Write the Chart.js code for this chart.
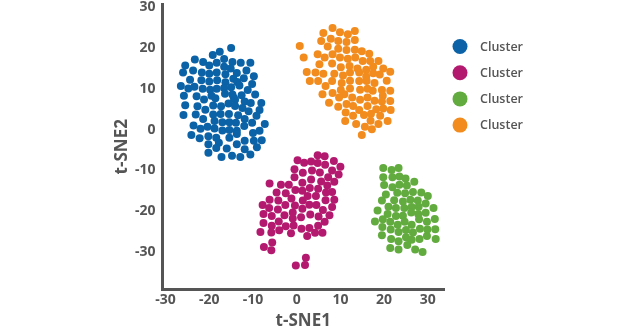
<!DOCTYPE html>
<html>
<head>
<meta charset="utf-8">
<title>t-SNE clusters</title>
<script src="https://cdn.jsdelivr.net/npm/chart.js@4.4.1/dist/chart.umd.min.js"></script>
<style>
    html, body { margin: 0; padding: 0; background: #fff; }
    #wrap { width: 630px; height: 330px; }
</style>
</head>
<body>
<div id="wrap"><canvas id="tsne" width="630" height="330"></canvas></div>
<script>
// точки кластеров, [t-SNE1, t-SNE2]
var clusterBlue = [
    [-15.0,20.0],[-17.6,19.1],[-19.2,18.3],[-16.6,17.3],[-23.3,17.2],[-21.4,16.6],[-18.3,16.4],[-14.7,16.6],
    [-12.8,16.4],[-10.6,16.4],[-25.5,15.7],[-20.0,15.7],[-16.6,15.4],[-15.1,15.0],[-23.7,14.5],[-26.0,14.0],
    [-21.7,14.0],[-20.0,13.7],[-18.3,14.0],[-16.3,13.6],[-11.5,14.5],[-13.7,13.9],[-14.5,12.5],[-12.1,12.6],
    [-9.8,13.1],[-24.4,12.2],[-21.8,12.1],[-20.0,11.8],[-18.2,12.1],[-16.3,11.6],[-13.6,11.7],[-26.5,10.7],
    [-24.8,10.1],[-23.4,10.5],[-21.5,10.0],[-19.8,9.8],[-18.3,10.0],[-16.6,10.2],[-15.0,10.4],[-13.1,10.8],
    [-10.2,11.2],[-11.2,9.7],[-25.8,8.3],[-22.9,8.2],[-19.5,8.3],[-16.4,8.8],[-14.7,8.6],[-14.4,7.8],
    [-12.6,8.4],[-9.5,8.6],[-21.2,7.4],[-18.6,7.7],[-14.1,7.3],[-11.9,6.9],[-10.5,6.5],[-8.1,6.5],
    [-25.5,6.0],[-22.7,5.7],[-19.1,5.9],[-17.3,5.7],[-15.6,6.4],[-14.1,5.8],[-12.4,5.3],[-11.0,4.5],
    [-8.5,4.8],[-20.9,4.9],[-25.9,3.6],[-23.1,3.7],[-19.1,3.7],[-17.4,3.8],[-15.5,3.8],[-13.4,3.5],
    [-9.2,3.4],[-21.4,2.6],[-18.8,2.1],[-17.0,1.8],[-15.4,1.8],[-13.9,1.7],[-11.9,2.6],[-10.2,1.7],
    [-7.3,1.4],[-23.6,1.0],[-20.4,0.7],[-22.0,0.2],[-18.8,0.3],[-17.0,-0.2],[-15.4,-0.1],[-13.7,-0.3],
    [-12.0,0.9],[-10.0,-0.8],[-8.5,-0.3],[-24.1,-1.3],[-22.2,-2.1],[-20.2,-1.6],[-18.4,-2.0],[-15.4,-2.0],
    [-13.7,-1.1],[-11.9,-2.7],[-9.8,-2.7],[-8.0,-2.6],[-20.2,-3.6],[-17.8,-3.2],[-16.0,-4.6],[-13.7,-3.6],
    [-11.9,-4.8],[-9.1,-4.3],[-18.4,-4.5],[-20.2,-5.7],[-17.2,-6.7],[-14.8,-6.4],[-12.9,-6.7],[-10.6,-6.1]
];
var clusterMagenta = [
    [4.8,-6.3],[6.4,-6.5],[0.2,-7.5],[1.7,-8.1],[3.3,-7.8],[4.8,-8.2],[6.5,-8.6],[8.5,-7.7],
    [-0.5,-9.7],[1.4,-10.6],[3.5,-10.0],[5.3,-10.5],[8.1,-10.0],[10.0,-9.1],[-0.5,-11.7],[3.3,-12.2],
    [5.6,-12.7],[7.2,-11.7],[9.6,-11.0],[8.6,-12.8],[-6.2,-13.2],[-3.6,-13.5],[-1.8,-13.5],[1.3,-13.0],
    [-0.3,-14.8],[1.3,-15.0],[3.0,-14.3],[4.9,-14.5],[7.0,-13.7],[6.7,-15.4],[8.1,-15.3],[-4.6,-15.4],
    [-2.5,-15.6],[-1.2,-16.9],[2.5,-16.3],[4.4,-16.3],[-6.2,-17.2],[-4.2,-17.4],[1.4,-17.4],[6.6,-17.3],
    [8.6,-17.2],[-7.8,-18.5],[-6.3,-19.2],[-4.3,-19.6],[-2.6,-18.5],[-0.4,-18.6],[1.3,-19.4],[2.9,-18.4],
    [4.5,-18.5],[6.0,-19.7],[8.1,-19.0],[-7.6,-20.7],[-5.7,-21.2],[-2.8,-21.0],[-0.9,-20.3],[1.0,-21.5],
    [3.1,-20.8],[5.0,-21.3],[7.5,-21.0],[-4.1,-22.5],[-0.9,-21.8],[-7.6,-22.9],[-5.7,-23.6],[-2.5,-23.7],
    [-0.7,-23.5],[1.1,-24.3],[2.9,-24.1],[4.9,-23.6],[6.4,-22.6],[-8.3,-25.1],[-5.8,-25.2],[-4.0,-24.7],
    [-1.3,-25.4],[2.4,-26.1],[4.2,-25.3],[5.9,-25.3],[-5.6,-27.7],[-7.5,-28.8],[-5.8,-29.6],[2.1,-31.4],
    [-0.2,-33.3],[1.9,-33.2]
];
var clusterGreen = [
    [19.8,-9.4],[21.7,-9.9],[23.3,-9.4],[19.8,-11.7],[21.9,-11.7],[23.5,-11.5],[24.9,-12.0],[26.9,-12.8],
    [20.0,-13.6],[21.9,-14.1],[23.5,-13.5],[25.2,-13.7],[20.4,-15.9],[23.0,-15.5],[24.8,-15.6],[26.6,-15.3],
    [28.5,-15.4],[30.0,-16.3],[19.5,-17.4],[22.3,-17.3],[24.3,-17.6],[26.0,-17.2],[27.7,-17.4],[29.5,-18.1],
    [21.0,-18.9],[22.7,-19.2],[24.6,-19.2],[26.3,-19.0],[27.9,-18.9],[31.3,-19.2],[18.5,-19.8],[20.8,-20.7],
    [22.7,-21.2],[24.3,-21.1],[26.2,-20.3],[27.8,-20.7],[29.5,-20.4],[17.9,-22.5],[19.7,-22.0],[21.4,-22.6],
    [23.1,-23.3],[24.7,-22.6],[26.3,-23.3],[28.0,-22.0],[29.8,-22.6],[31.6,-21.9],[19.6,-23.9],[21.5,-24.5],
    [23.3,-25.1],[25.0,-24.6],[26.6,-25.2],[28.2,-24.3],[29.9,-24.5],[31.7,-24.4],[19.5,-25.9],[21.6,-26.8],
    [23.3,-27.4],[25.0,-26.4],[26.3,-27.0],[28.1,-26.8],[29.8,-26.1],[31.8,-26.8],[21.4,-29.0],[23.3,-29.4],
    [25.3,-28.3],[27.1,-29.4],[28.8,-30.0]
];
var clusterOrange = [
    [8.2,24.9],[6.1,23.7],[9.9,23.9],[11.7,23.4],[13.3,24.2],[7.8,22.3],[5.6,21.7],[9.5,21.7],
    [11.4,21.5],[13.3,22.0],[0.7,20.5],[7.1,20.4],[9.5,19.8],[11.4,19.5],[13.3,19.6],[14.9,19.2],
    [16.6,18.6],[4.8,18.5],[6.4,17.7],[8.2,18.5],[9.9,17.7],[11.7,17.4],[13.4,17.7],[15.1,16.8],
    [16.8,16.8],[18.7,16.8],[1.6,17.7],[5.2,16.0],[8.1,16.2],[10.1,15.3],[12.1,15.6],[13.9,15.0],
    [15.9,14.7],[17.5,15.4],[19.8,15.0],[17.5,13.8],[21.4,14.2],[2.3,14.1],[4.3,14.0],[6.1,13.7],
    [8.6,13.7],[10.6,13.3],[12.2,14.0],[14.3,14.0],[15.9,13.0],[19.0,13.5],[20.6,12.0],[3.0,11.9],
    [4.9,11.9],[6.6,10.7],[8.1,11.9],[10.3,11.4],[12.2,12.0],[14.3,11.9],[16.0,11.9],[17.8,11.4],
    [10.1,9.7],[12.2,10.1],[14.5,9.8],[16.2,10.0],[17.4,9.5],[19.5,9.7],[21.4,9.5],[5.9,8.7],
    [8.2,9.0],[10.9,8.7],[9.7,7.9],[12.7,7.9],[14.5,7.3],[16.2,7.9],[17.8,7.1],[19.7,8.3],
    [21.4,7.0],[19.5,6.9],[7.4,6.6],[9.5,5.6],[11.4,6.3],[12.9,5.8],[14.3,4.8],[16.2,5.8],
    [18.2,5.0],[19.8,5.2],[21.5,4.8],[11.2,4.2],[12.9,3.4],[15.4,3.6],[17.0,3.9],[19.1,3.4],
    [11.1,2.1],[13.6,1.4],[16.9,2.2],[18.7,1.4],[20.8,2.1],[15.6,0.7],[17.2,0.1],[14.9,-1.3]
];

var clusterLabels = ['Cluster', 'Cluster', 'Cluster', 'Cluster'];
var clusterColors = ['#0b62a6', '#b31a6f', '#62ab3e', '#f28c1e'];
var xTicks = [-30, -20, -10, 0, 10, 20, 30];
var yTicks = [-30, -20, -10, 0, 10, 20, 30];

var textColor = '#555555';
var fontFamily = '"Open Sans", "Noto Sans", sans-serif';

function toPoints(arr) {
    return arr.map(function(p) { return { x: p[0], y: p[1] }; });
}

// легенда справа: кружок + подпись
var sideLegend = {
    id: 'sideLegend',
    afterDraw: function(chart) {
        var ctx = chart.ctx;
        ctx.save();
        ctx.font = '600 12.5px ' + fontFamily;
        ctx.textBaseline = 'middle';
        ctx.textAlign = 'left';
        chart.data.datasets.forEach(function(ds, i) {
            var cy = 46.5 + i * 26.2;
            ctx.fillStyle = ds.backgroundColor;
            ctx.beginPath();
            ctx.arc(460, cy, 7.5, 0, Math.PI * 2);
            ctx.fill();
            ctx.fillStyle = textColor;
            ctx.fillText(ds.label, 480, cy + 0.5);
        });
        ctx.restore();
    }
};

var clusters = [clusterBlue, clusterMagenta, clusterGreen, clusterOrange];

new Chart(document.getElementById('tsne'), {
    type: 'scatter',
    data: {
        datasets: clusters.map(function(c, i) {
            return {
                label: clusterLabels[i],
                data: toPoints(c),
                backgroundColor: clusterColors[i],
                borderWidth: 0,
                pointRadius: 4,
                pointHoverRadius: 4
            };
        })
    },
    options: {
        responsive: false,
        animation: false,
        layout: { padding: { left: 113.5, right: 186, top: 4, bottom: 0 } },
        plugins: {
            legend: { display: false },
            tooltip: { enabled: false }
        },
        scales: {
            x: {
                type: 'linear',
                min: -30.7,
                max: 33.7,
                grid: { display: false, drawTicks: false },
                border: { display: true, color: '#555555', width: 3 },
                afterBuildTicks: function(scale) {
                    scale.ticks = xTicks.map(function(v) { return { value: v }; });
                },
                afterFit: function(scale) {
                    scale.height = 40.5;
                    scale.paddingLeft = 0;
                    scale.paddingRight = 0;
                },
                ticks: {
                    padding: 2,
                    color: textColor,
                    font: { family: fontFamily, size: 14, weight: 'bold' }
                },
                title: {
                    display: true,
                    text: 't-SNE1',
                    color: textColor,
                    padding: 0,
                    font: { family: fontFamily, size: 17, weight: 'bold', lineHeight: 1 }
                }
            },
            y: {
                type: 'linear',
                min: -39.2,
                max: 30.8,
                grid: { display: false, drawTicks: false },
                border: { display: true, color: '#555555', width: 3 },
                afterBuildTicks: function(scale) {
                    scale.ticks = yTicks.map(function(v) { return { value: v }; });
                },
                afterFit: function(scale) {
                    scale.width = 49;
                    scale.paddingTop = 0;
                    scale.paddingBottom = 0;
                },
                ticks: {
                    padding: 7,
                    color: textColor,
                    font: { family: fontFamily, size: 14, weight: 'bold' }
                },
                title: {
                    display: true,
                    text: 't-SNE2',
                    color: textColor,
                    padding: 0,
                    font: { family: fontFamily, size: 17, weight: 'bold', lineHeight: 1 }
                }
            }
        }
    },
    plugins: [sideLegend]
});
</script>
</body>
</html>
